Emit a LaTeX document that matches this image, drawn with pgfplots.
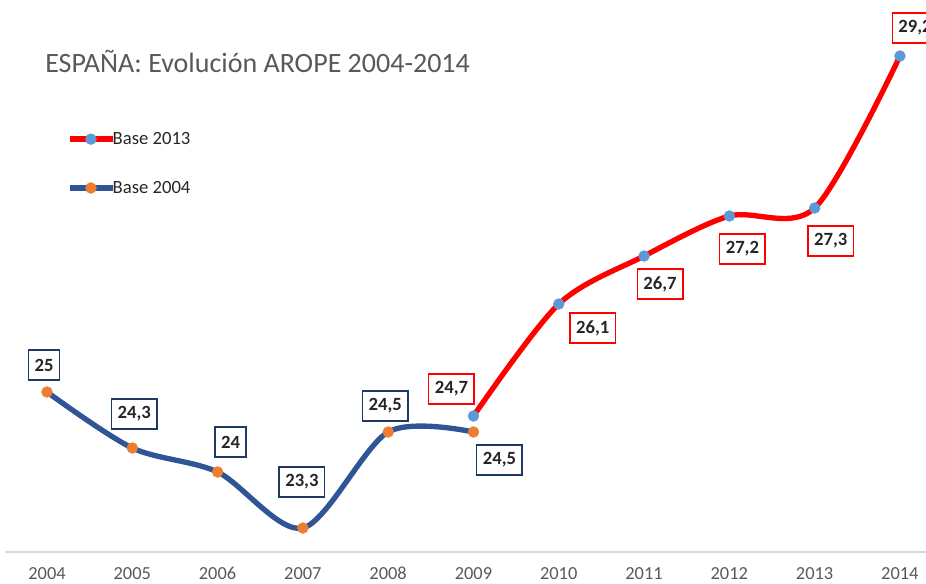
\documentclass[border=0pt]{standalone}
\usepackage{pgfplots}
\usepackage{pgfplotstable}
\pgfplotsset{compat=1.18}
\usepackage{fontspec}
\setmainfont{Carlito}
\definecolor{blueline}{RGB}{47,85,151}
\definecolor{orangem}{RGB}{237,125,49}
\definecolor{lightbluem}{RGB}{91,155,213}
\definecolor{redline}{RGB}{255,0,0}
\definecolor{boxblue}{RGB}{31,56,100}
\definecolor{labtext}{RGB}{38,38,38}
\definecolor{ticktext}{RGB}{89,89,89}
\definecolor{axisgray}{RGB}{217,217,217}

\pgfplotstableread{
x y
2004 25
2005 24.3
2006 24
2007 23.3
2008 24.5
2009 24.5
}\baseA

\pgfplotstableread{
x y
2009 24.7
2010 26.1
2011 26.7
2012 27.2
2013 27.3
2014 29.2
}\baseB

\pgfplotsset{
  labelled/.style n args={3}{
    draw=none, mark=none, forget plot,
    point meta=explicit symbolic,
    nodes near coords,
    every node near coord/.append style={anchor=center, xshift=#2*0.75pt, yshift=#3*0.75pt,
      fill=white, line width=1.1pt, inner xsep=4.6pt, minimum height=22.5pt,
      font=\bfseries\fontsize{14pt}{16pt}\selectfont, text=labtext, draw=#1},
  }
}

\begin{document}
\begin{tikzpicture}
\begin{axis}[
  at={(0pt,23.25pt)}, anchor=south west,
  scale only axis,
  width=694.5pt, height=414pt,
  xmin=2003.449, xmax=2014.305,
  ymin=23, ymax=29.9,
  enlargelimits=false,
  axis x line*=bottom,
  x axis line style={draw=none},
  axis y line=none,
  ytick=\empty,
  xtick={2004,...,2014},
  xticklabel={\pgfmathprintnumber[1000 sep={}]{\tick}},
  /pgf/number format/assume math mode=true,
  major tick length=0pt,
  xticklabel style={anchor=base, inner sep=0pt, yshift=-20.5pt, font=\fontsize{13.8pt}{16pt}\selectfont, text=ticktext},
  clip=false,
  reverse legend,
  legend style={at={(axis description cs:0.072,0.762)}, anchor=north west,
    draw=none, fill=none, inner sep=0pt, row sep=25.5pt,
    font=\fontsize{14pt}{16pt}\selectfont, text=labtext,
    nodes={inner sep=0.3pt},
    /tikz/every odd column/.append style={column sep=-2pt}},
  legend cell align=left,
  legend image code/.code={\draw[mark repeat=2,mark phase=2,#1] plot coordinates {(0pt,0pt) (16pt,0pt) (32pt,0pt)};},
]
\draw[axisgray, line width=0.8pt] (axis cs:2003.51,23) -- (axis cs:2014.305,23);
\node[anchor=base west, inner sep=0pt, text=ticktext, font=\fontsize{21pt}{25pt}\selectfont] at (rel axis cs:0.0486,0.868) {ESPAÑA: Evolución AROPE 2004-2014};
\addplot[blueline, line width=4pt, smooth, tension=0.5, mark=*, mark size=4.1pt,
  mark options={solid, fill=orangem, draw=orangem, line width=0.3pt}]
  table[x=x, y=y] {\baseA};
\addlegendentry{Base 2004}
\addplot[redline, line width=4pt, smooth, tension=0.5, mark=*, mark size=4.1pt,
  mark options={solid, fill=lightbluem, draw=lightbluem, line width=0.3pt}]
  table[x=x, y=y] {\baseB};
\addlegendentry{Base 2013}
% data labels (Base 2004)
\addplot[labelled={boxblue}{-3}{27}] coordinates {(2004,25)[25]};
\addplot[labelled={boxblue}{2}{34}] coordinates {(2005,24.3)[24,3]};
\addplot[labelled={boxblue}{13}{30}] coordinates {(2006,24)[24]};
\addplot[labelled={boxblue}{-1}{46}] coordinates {(2007,23.3)[23,3]};
\addplot[labelled={boxblue}{-3}{26}] coordinates {(2008,24.5)[24,5]};
\addplot[labelled={boxblue}{26}{-28}] coordinates {(2009,24.5)[24,5]};
% data labels (Base 2013)
\addplot[labelled={redline}{-22}{27}] coordinates {(2009,24.7)[24,7]};
\addplot[labelled={redline}{34}{-24}] coordinates {(2010,26.1)[26,1]};
\addplot[labelled={redline}{16}{-28}] coordinates {(2011,26.7)[26,7]};
\addplot[labelled={redline}{13}{-33}] coordinates {(2012,27.2)[27,2]};
\addplot[labelled={redline}{16}{-33}] coordinates {(2013,27.3)[27,3]};
\addplot[labelled={redline}{15}{28}] coordinates {(2014,29.2)[29,2]};
\end{axis}
\pgfresetboundingbox
\path[use as bounding box] (0,0) rectangle (694.5pt,437.25pt);
\end{tikzpicture}
\end{document}
